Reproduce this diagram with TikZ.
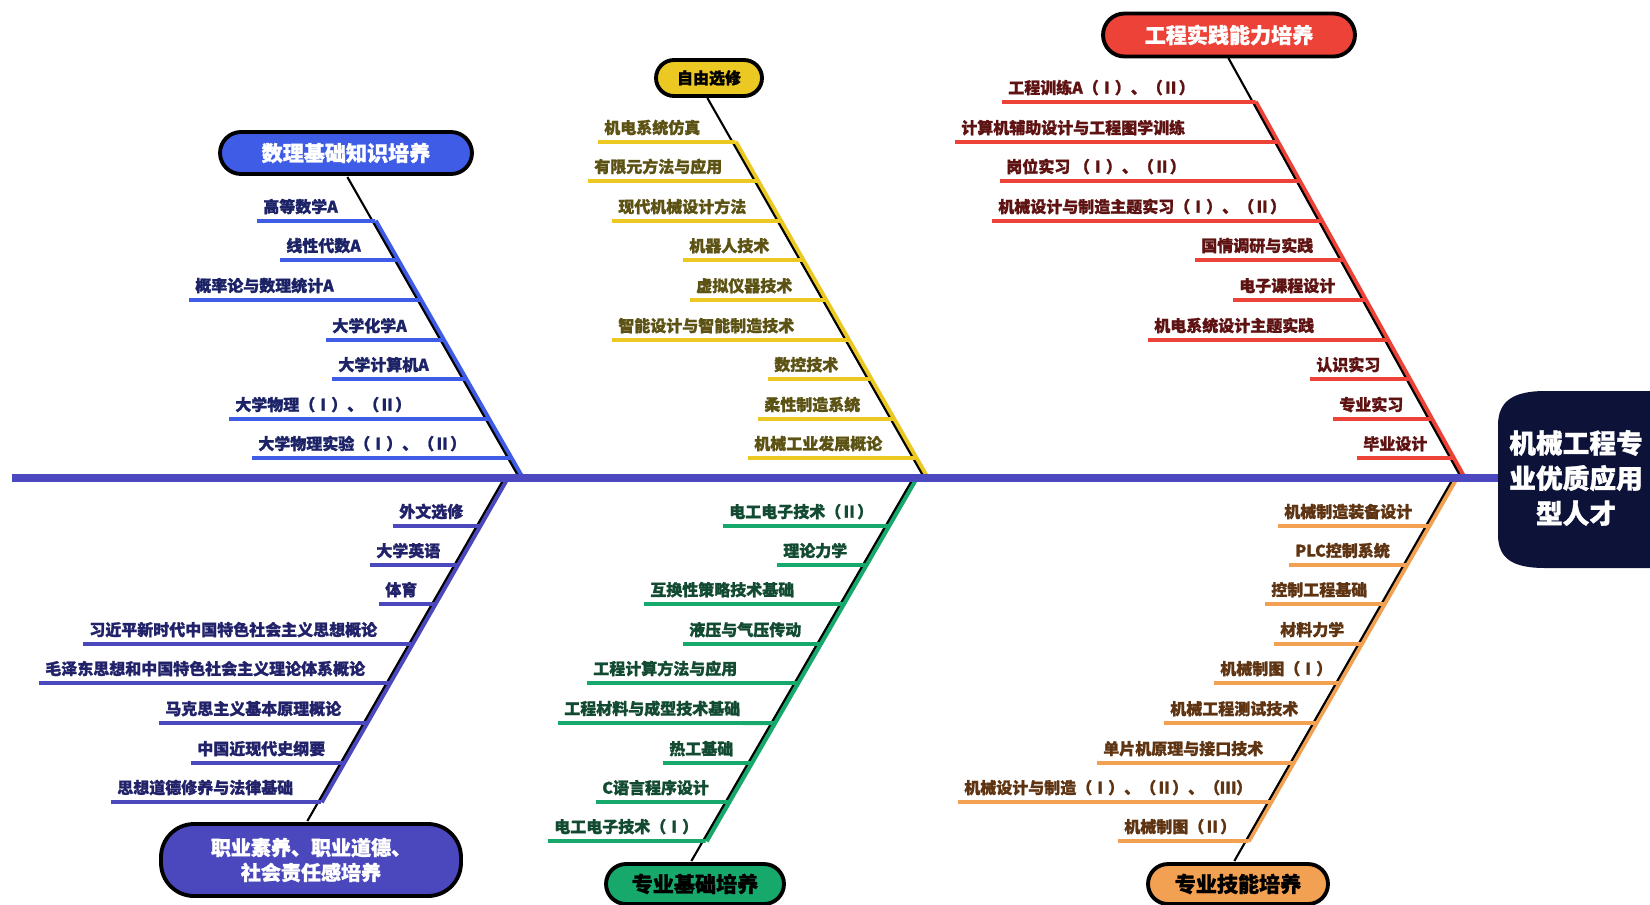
\documentclass[tikz,border=0pt]{standalone}
\usepackage{fontspec}
\setmainfont{Noto Sans CJK SC}[BoldFeatures={FakeBold=1.2}]
\definecolor{mathc}{HTML}{3E5CE6}
\definecolor{mathtxt}{HTML}{1B2266}
\definecolor{electc}{HTML}{EBC822}
\definecolor{electtxt}{HTML}{5C5214}
\definecolor{pracc}{HTML}{EC4238}
\definecolor{practxt}{HTML}{5E1212}
\definecolor{ethc}{HTML}{4B48BE}
\definecolor{ethtxt}{HTML}{22226A}
\definecolor{basec}{HTML}{17A86C}
\definecolor{basetxt}{HTML}{124A32}
\definecolor{skillc}{HTML}{F2A052}
\definecolor{skilltxt}{HTML}{5E3412}
\definecolor{spinec}{HTML}{4B48C0}
\definecolor{headc}{HTML}{0D1238}
\newcommand{\itemfont}{\bfseries\fontsize{9.1}{11}\selectfont}
\newcommand{\boxfont}{\bfseries\fontsize{12}{14.2}\selectfont}
\begin{document}
\begin{tikzpicture}[x=0.02cm,y=-0.02cm,
  item/.style={anchor=south west,inner xsep=3.4pt,inner ysep=3.6pt,font=\itemfont},
  twig/.style={line width=2.2pt},
  bone/.style={line width=3.2pt},
  blackbone/.style={line width=1.2pt,black},
  groupbox/.style={draw=black,line width=2.2pt,font=\boxfont,inner sep=2pt}]
\useasboundingbox (0,0) rectangle (1650,904);

% 数理基础知识培养
\node[groupbox,fill=mathc,text=white,minimum width=5.04cm,minimum height=0.84cm,rounded corners=0.42cm] (mbox) at (346,153) {数理基础知识培养};
\coordinate (mt) at (350,177);
\coordinate (ms) at (375,221);
\coordinate (mb) at (522,478);
\draw[bone,mathc] (ms) -- (mb);
\draw[blackbone] ([xshift=-1.5pt]mt) -- ([xshift=-1.5pt]mb);
\node[item,text=mathtxt] (m1) at (257,221) {高等数学A};
\node[item,text=mathtxt] (m2) at (280,260) {线性代数A};
\node[item,text=mathtxt] (m3) at (189,300) {概率论与数理统计A};
\node[item,text=mathtxt] (m4) at (326,340) {大学化学A};
\node[item,text=mathtxt] (m5) at (332,379) {大学计算机A};
\node[item,text=mathtxt] (m6) at (229,419) {大学物理（Ⅰ）、（Ⅱ）};
\node[item,text=mathtxt] (m7) at (252,458) {大学物理实验（Ⅰ）、（Ⅱ）};
\draw[twig,mathc] (m1.south west) -- (intersection of mt--mb and m1.south west--m1.south east);
\draw[twig,mathc] (m2.south west) -- (intersection of mt--mb and m2.south west--m2.south east);
\draw[twig,mathc] (m3.south west) -- (intersection of mt--mb and m3.south west--m3.south east);
\draw[twig,mathc] (m4.south west) -- (intersection of mt--mb and m4.south west--m4.south east);
\draw[twig,mathc] (m5.south west) -- (intersection of mt--mb and m5.south west--m5.south east);
\draw[twig,mathc] (m6.south west) -- (intersection of mt--mb and m6.south west--m6.south east);
\draw[twig,mathc] (m7.south west) -- (intersection of mt--mb and m7.south west--m7.south east);

% 自由选修
\node[groupbox,fill=electc,text=black,minimum width=2.12cm,minimum height=0.72cm,rounded corners=0.36cm,font=\bfseries\fontsize{9.1}{11}\selectfont] (ebox) at (709,78) {自由选修};
\coordinate (et) at (710,98);
\coordinate (es) at (735,142);
\coordinate (eb) at (927,478);
\draw[bone,electc] (es) -- (eb);
\draw[blackbone] ([xshift=-1.5pt]et) -- ([xshift=-1.5pt]eb);
\node[item,text=electtxt] (e1) at (598,142) {机电系统仿真};
\node[item,text=electtxt] (e2) at (588,181) {有限元方法与应用};
\node[item,text=electtxt] (e3) at (612,221) {现代机械设计方法};
\node[item,text=electtxt] (e4) at (683,260) {机器人技术};
\node[item,text=electtxt] (e5) at (690,300) {虚拟仪器技术};
\node[item,text=electtxt] (e6) at (612,340) {智能设计与智能制造技术};
\node[item,text=electtxt] (e7) at (768,379) {数控技术};
\node[item,text=electtxt] (e8) at (758,419) {柔性制造系统};
\node[item,text=electtxt] (e9) at (748,458) {机械工业发展概论};
\draw[twig,electc] (e1.south west) -- (intersection of et--eb and e1.south west--e1.south east);
\draw[twig,electc] (e2.south west) -- (intersection of et--eb and e2.south west--e2.south east);
\draw[twig,electc] (e3.south west) -- (intersection of et--eb and e3.south west--e3.south east);
\draw[twig,electc] (e4.south west) -- (intersection of et--eb and e4.south west--e4.south east);
\draw[twig,electc] (e5.south west) -- (intersection of et--eb and e5.south west--e5.south east);
\draw[twig,electc] (e6.south west) -- (intersection of et--eb and e6.south west--e6.south east);
\draw[twig,electc] (e7.south west) -- (intersection of et--eb and e7.south west--e7.south east);
\draw[twig,electc] (e8.south west) -- (intersection of et--eb and e8.south west--e8.south east);
\draw[twig,electc] (e9.south west) -- (intersection of et--eb and e9.south west--e9.south east);

% 工程实践能力培养
\node[groupbox,fill=pracc,text=white,minimum width=5.04cm,minimum height=0.86cm,rounded corners=0.43cm] (pbox) at (1229,35) {工程实践能力培养};
\coordinate (pt) at (1231,58);
\coordinate (ps) at (1255,102);
\coordinate (pb) at (1464,478);
\draw[bone,pracc] (ps) -- (pb);
\draw[blackbone] ([xshift=-1.5pt]pt) -- ([xshift=-1.5pt]pb);
\node[item,text=practxt] (p1) at (1002,102) {工程训练A（Ⅰ）、（Ⅱ）};
\node[item,text=practxt] (p2) at (955,142) {计算机辅助设计与工程图学训练};
\node[item,text=practxt] (p3) at (1000,181) {岗位实习 （Ⅰ）、（Ⅱ）};
\node[item,text=practxt] (p4) at (992,221) {机械设计与制造主题实习（Ⅰ）、（Ⅱ）};
\node[item,text=practxt] (p5) at (1195,260) {国情调研与实践};
\node[item,text=practxt] (p6) at (1233,300) {电子课程设计};
\node[item,text=practxt] (p7) at (1148,340) {机电系统设计主题实践};
\node[item,text=practxt] (p8) at (1310,379) {认识实习};
\node[item,text=practxt] (p9) at (1333,419) {专业实习};
\node[item,text=practxt] (p10) at (1357,458) {毕业设计};
\draw[twig,pracc] (p1.south west) -- (intersection of pt--pb and p1.south west--p1.south east);
\draw[twig,pracc] (p2.south west) -- (intersection of pt--pb and p2.south west--p2.south east);
\draw[twig,pracc] (p3.south west) -- (intersection of pt--pb and p3.south west--p3.south east);
\draw[twig,pracc] (p4.south west) -- (intersection of pt--pb and p4.south west--p4.south east);
\draw[twig,pracc] (p5.south west) -- (intersection of pt--pb and p5.south west--p5.south east);
\draw[twig,pracc] (p6.south west) -- (intersection of pt--pb and p6.south west--p6.south east);
\draw[twig,pracc] (p7.south west) -- (intersection of pt--pb and p7.south west--p7.south east);
\draw[twig,pracc] (p8.south west) -- (intersection of pt--pb and p8.south west--p8.south east);
\draw[twig,pracc] (p9.south west) -- (intersection of pt--pb and p9.south west--p9.south east);
\draw[twig,pracc] (p10.south west) -- (intersection of pt--pb and p10.south west--p10.south east);

% 职业素养、职业道德、社会责任感培养
\node[groupbox,fill=ethc,text=white,align=center,minimum width=6cm,minimum height=1.44cm,rounded corners=0.66cm,font=\bfseries\fontsize{11.4}{14.2}\selectfont] (qbox) at (311,860) {职业素养、职业道德、\\社会责任感培养};
\coordinate (qt) at (507,478);
\coordinate (qs) at (321,802);
\coordinate (qb) at (310,821);
\draw[bone,ethc] (qt) -- (qs);
\draw[blackbone] ([xshift=-1.5pt]qt) -- ([xshift=-1.5pt]qb);
\node[item,text=ethtxt] (q1) at (393,526) {外文选修};
\node[item,text=ethtxt] (q2) at (370,565) {大学英语};
\node[item,text=ethtxt] (q3) at (379,604) {体育};
\node[item,text=ethtxt] (q4) at (83,644) {习近平新时代中国特色社会主义思想概论};
\node[item,text=ethtxt] (q5) at (39,683) {毛泽东思想和中国特色社会主义理论体系概论};
\node[item,text=ethtxt] (q6) at (159,723) {马克思主义基本原理概论};
\node[item,text=ethtxt] (q7) at (191,763) {中国近现代史纲要};
\node[item,text=ethtxt] (q8) at (111,802) {思想道德修养与法律基础};
\draw[twig,ethc] (q1.south west) -- (intersection of qt--qb and q1.south west--q1.south east);
\draw[twig,ethc] (q2.south west) -- (intersection of qt--qb and q2.south west--q2.south east);
\draw[twig,ethc] (q3.south west) -- (intersection of qt--qb and q3.south west--q3.south east);
\draw[twig,ethc] (q4.south west) -- (intersection of qt--qb and q4.south west--q4.south east);
\draw[twig,ethc] (q5.south west) -- (intersection of qt--qb and q5.south west--q5.south east);
\draw[twig,ethc] (q6.south west) -- (intersection of qt--qb and q6.south west--q6.south east);
\draw[twig,ethc] (q7.south west) -- (intersection of qt--qb and q7.south west--q7.south east);
\draw[twig,ethc] (q8.south west) -- (intersection of qt--qb and q8.south west--q8.south east);

% 专业基础培养
\node[groupbox,fill=basec,text=black,minimum width=3.56cm,minimum height=0.8cm,rounded corners=0.4cm] (fbox) at (695,884) {专业基础培养};
\coordinate (ft) at (916,478);
\coordinate (fs) at (706,841);
\coordinate (fb) at (694,861);
\draw[bone,basec] (ft) -- (fs);
\draw[blackbone] ([xshift=-1.5pt]ft) -- ([xshift=-1.5pt]fb);
\node[item,text=basetxt] (f1) at (723,526) {电工电子技术（Ⅱ）};
\node[item,text=basetxt] (f2) at (777,565) {理论力学};
\node[item,text=basetxt] (f3) at (644,604) {互换性策略技术基础};
\node[item,text=basetxt] (f4) at (683,644) {液压与气压传动};
\node[item,text=basetxt] (f5) at (587,683) {工程计算方法与应用};
\node[item,text=basetxt] (f6) at (558,723) {工程材料与成型技术基础};
\node[item,text=basetxt] (f7) at (663,763) {热工基础};
\node[item,text=basetxt] (f8) at (596,802) {C语言程序设计};
\node[item,text=basetxt] (f9) at (548,841) {电工电子技术（Ⅰ）};
\draw[twig,basec] (f1.south west) -- (intersection of ft--fb and f1.south west--f1.south east);
\draw[twig,basec] (f2.south west) -- (intersection of ft--fb and f2.south west--f2.south east);
\draw[twig,basec] (f3.south west) -- (intersection of ft--fb and f3.south west--f3.south east);
\draw[twig,basec] (f4.south west) -- (intersection of ft--fb and f4.south west--f4.south east);
\draw[twig,basec] (f5.south west) -- (intersection of ft--fb and f5.south west--f5.south east);
\draw[twig,basec] (f6.south west) -- (intersection of ft--fb and f6.south west--f6.south east);
\draw[twig,basec] (f7.south west) -- (intersection of ft--fb and f7.south west--f7.south east);
\draw[twig,basec] (f8.south west) -- (intersection of ft--fb and f8.south west--f8.south east);
\draw[twig,basec] (f9.south west) -- (intersection of ft--fb and f9.south west--f9.south east);

% 专业技能培养
\node[groupbox,fill=skillc,text=black,minimum width=3.6cm,minimum height=0.8cm,rounded corners=0.4cm] (kbox) at (1238,884) {专业技能培养};
\coordinate (kt) at (1456,478);
\coordinate (ks) at (1248,841);
\coordinate (kb) at (1237,861);
\draw[bone,skillc] (kt) -- (ks);
\draw[blackbone] ([xshift=-1.5pt]kt) -- ([xshift=-1.5pt]kb);
\node[item,text=skilltxt] (k1) at (1278,526) {机械制造装备设计};
\node[item,text=skilltxt] (k2) at (1289,565) {PLC控制系统};
\node[item,text=skilltxt] (k3) at (1265,604) {控制工程基础};
\node[item,text=skilltxt] (k4) at (1274,644) {材料力学};
\node[item,text=skilltxt] (k5) at (1214,683) {机械制图（Ⅰ）};
\node[item,text=skilltxt] (k6) at (1164,723) {机械工程测试技术};
\node[item,text=skilltxt] (k7) at (1097,763) {单片机原理与接口技术};
\node[item,text=skilltxt] (k8) at (958,802) {机械设计与制造（Ⅰ）、（Ⅱ）、（Ⅲ）};
\node[item,text=skilltxt] (k9) at (1118,841) {机械制图（Ⅱ）};
\draw[twig,skillc] (k1.south west) -- (intersection of kt--kb and k1.south west--k1.south east);
\draw[twig,skillc] (k2.south west) -- (intersection of kt--kb and k2.south west--k2.south east);
\draw[twig,skillc] (k3.south west) -- (intersection of kt--kb and k3.south west--k3.south east);
\draw[twig,skillc] (k4.south west) -- (intersection of kt--kb and k4.south west--k4.south east);
\draw[twig,skillc] (k5.south west) -- (intersection of kt--kb and k5.south west--k5.south east);
\draw[twig,skillc] (k6.south west) -- (intersection of kt--kb and k6.south west--k6.south east);
\draw[twig,skillc] (k7.south west) -- (intersection of kt--kb and k7.south west--k7.south east);
\draw[twig,skillc] (k8.south west) -- (intersection of kt--kb and k8.south west--k8.south east);
\draw[twig,skillc] (k9.south west) -- (intersection of kt--kb and k9.south west--k9.south east);

% spine and head
\coordinate (tail) at (12,478);
\coordinate (neck) at (1510,478);
\draw[line width=4.5pt,spinec] (tail) -- (neck);
\fill[headc] (1650,391) -- (1545,391) .. controls (1515,391) and (1498,400) .. (1498,425) -- (1498,535) .. controls (1498,560) and (1515,568) .. (1545,568) -- (1650,568) -- cycle;
\node[text=white,align=center,font=\bfseries\fontsize{15.2}{20}\selectfont] (head) at (1576,478) {机械工程专\\业优质应用\\型人才};
\end{tikzpicture}
\end{document}
